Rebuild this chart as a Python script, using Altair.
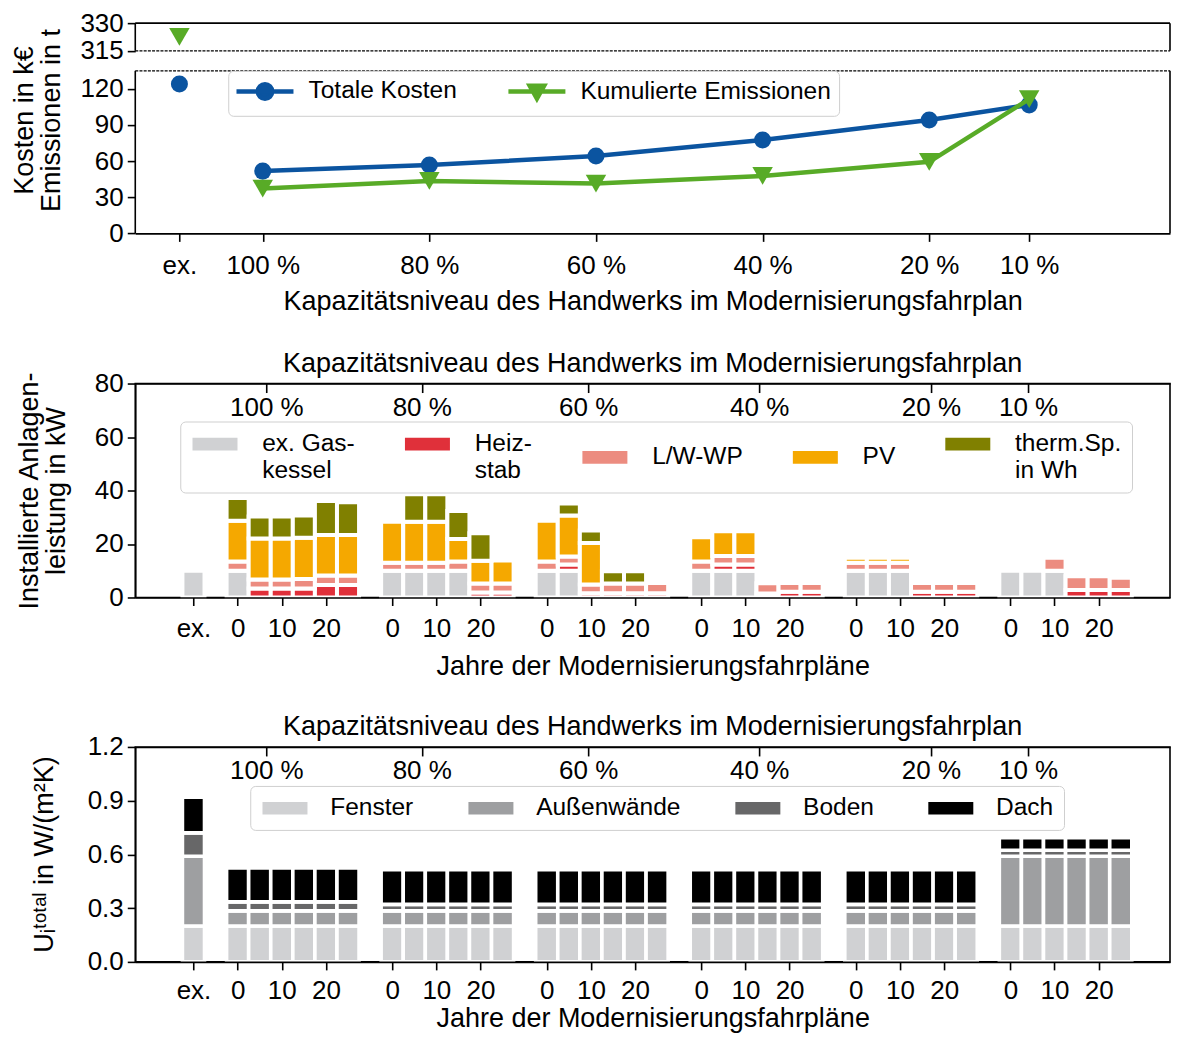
import altair as alt
import pandas as pd

FONT = "Liberation Sans"
TICK_FS = 26
TITLE_FS = 27
LEGEND_FS = 24.5

# ---------------- top panel data ----------------
levels = ["ex.", "100 %", "80 %", "60 %", "40 %", "20 %", "10 %"]
level_pos = [-1, 0, 2, 4, 6, 8, 9.2]
kosten = [124.0, 51.7, 56.7, 64.2, 77.5, 94.2, 106.7]
emissionen = [322.6, 37.2, 43.5, 41.4, 47.7, 59.4, 111.5]
series_names = ["Totale Kosten", "Kumulierte Emissionen"]
series_colors = ["#0b54a0", "#58ab27"]
top_yticks = [0, 30, 60, 90, 120, 315, 330]
BREAK_LOW, BREAK_HIGH, TOP_MAX = 135, 315, 330

# ---------------- middle panel data ----------------
group_labels = ["100 %", "80 %", "60 %", "40 %", "20 %", "10 %"]
group_label_pos = [6.5, 41.7, 79.4, 118.1, 157.0, 179.0]
years = [0, 5, 10, 15, 20, 25]
year_ticks = [0, 10, 20]
tech_names = ["ex. Gas-|kessel", "Heiz-|stab", "L/W-WP", "PV", "therm.Sp.|in Wh"]
tech_colors = ["#d0d1d3", "#e0303a", "#ec8c80", "#f5a800", "#808000"]
#            ex | 100 %                      | 80 %                      | 60 %                      | 40 %                   | 20 %                   | 10 %
gaskessel = [10, 10, 0, 0, 0, 0, 0,           10, 10, 10, 10, 0, 0,       10, 10, 0, 0, 0, 0,         10, 10, 10, 0, 0, 0,     10, 10, 10, 0, 0, 0,     10, 10, 10, 0, 0, 0]
heizstab = [0, 0, 3.4, 3.4, 3.4, 4.7, 4.7,    0, 0, 0, 0, 1.9, 1.9,       0, 2.3, 1.6, 1.6, 1.6, 1.6, 0, 2.3, 2.3, 1.5, 2.1, 2.1, 0, 0, 0, 2.1, 2.1, 2.1, 0, 0, 0, 2.8, 2.8, 2.8]
lwwp = [0, 3.5, 3.3, 3.3, 3.5, 3.5, 3.5,      3.0, 3.0, 3.0, 3.5, 3.3, 3.3, 3.5, 3.0, 3.3, 3.6, 3.6, 3.8, 3.5, 3.2, 3.2, 3.8, 3.3, 3.3, 3.0, 3.0, 3.0, 3.3, 3.3, 3.3, 0, 0, 4.9, 5.1, 5.1, 4.6]
pv = [0, 15.2, 15.4, 15.4, 15.4, 15.2, 15.2,  15.3, 15.3, 15.3, 8.4, 8.5, 8.6, 15.2, 15.4, 15.5, 0, 0, 0,   9.0, 9.3, 9.3, 0, 0, 0,  1.9, 1.9, 1.9, 0, 0, 0,  0, 0, 0, 0, 0, 0]
therm = [0, 8.5, 8.2, 8.2, 8.4, 12.7, 12.2,   0, 10.3, 10.3, 10.4, 10.3, 0, 0, 4.4, 4.6, 4.6, 4.6, 0,     0, 0, 0, 0, 0, 0,        0, 0, 0, 0, 0, 0,        0, 0, 0, 0, 0, 0]
tech_values = [gaskessel, heizstab, lwwp, pv, therm]

# ---------------- bottom panel data ----------------
env_names = ["Fenster", "Außenwände", "Boden", "Dach"]
env_colors = ["#d0d1d3", "#9e9fa1", "#676768", "#000000"]
fenster = [0.20, 0.20, 0.20, 0.20, 0.20, 0.20, 0.20, 0.20, 0.20, 0.20, 0.20, 0.20, 0.20, 0.20, 0.20, 0.20, 0.20, 0.20, 0.20,
           0.20, 0.20, 0.20, 0.20, 0.20, 0.20, 0.20, 0.20, 0.20, 0.20, 0.20, 0.20, 0.20, 0.20, 0.20, 0.20, 0.20, 0.20]
aussen = [0.39, 0.085, 0.085, 0.085, 0.085, 0.085, 0.085, 0.085, 0.085, 0.085, 0.085, 0.085, 0.085, 0.085, 0.085, 0.085, 0.085, 0.085, 0.085,
          0.085, 0.085, 0.085, 0.085, 0.085, 0.085, 0.085, 0.085, 0.085, 0.085, 0.085, 0.085, 0.39, 0.39, 0.39, 0.39, 0.39, 0.39]
boden = [0.13, 0.05, 0.05, 0.05, 0.05, 0.05, 0.05, 0.036, 0.036, 0.036, 0.036, 0.036, 0.036, 0.036, 0.036, 0.036, 0.036, 0.036, 0.036,
         0.036, 0.036, 0.036, 0.036, 0.036, 0.036, 0.036, 0.036, 0.036, 0.036, 0.036, 0.036, 0.033, 0.033, 0.033, 0.033, 0.033, 0.033]
dach = [0.20, 0.19, 0.19, 0.19, 0.19, 0.19, 0.19, 0.193, 0.193, 0.193, 0.193, 0.193, 0.193, 0.193, 0.193, 0.193, 0.193, 0.193, 0.193,
        0.193, 0.193, 0.193, 0.193, 0.193, 0.193, 0.193, 0.193, 0.193, 0.193, 0.193, 0.193, 0.07, 0.07, 0.07, 0.07, 0.07, 0.07]
env_values = [fenster, aussen, boden, dach]

# ---------------- layout constants ----------------
W = 1035
PAD_T = 2
UPPER_H = 27.7          # height of the 315-330 band
BREAK_GAP = 20          # white gap of the broken axis
LOWER_H = 162.6         # height of the 0-135 band
TOP_H = UPPER_H + BREAK_GAP + LOWER_H
MID_H = 214
BOT_H = 215
GAP = 149.5
GROUP_STEP = 35
EX_POS = -10
BAR_W = 5
top_x_domain = [-1.53, 10.89]
bar_x_domain = [-23.18, 211.15]
TOP_TITLE_X = -96.7
PAD_L = 135 - 8 - (28 - TOP_TITLE_X)

bar_pos = [EX_POS] + [GROUP_STEP * g + y for g in range(len(group_labels)) for y in years]
bottom_tick_pos = [EX_POS] + [GROUP_STEP * g + t for g in range(len(group_labels)) for t in year_ticks]
bottom_tick_lab = ["ex."] + [str(t) for g in range(len(group_labels)) for t in year_ticks]


def label_expr(values, labels):
    expr = "''"
    for v, l in reversed(list(zip(values, labels))):
        expr = f"datum.value == {v} ? '{l}' : {expr}"
    return expr


one_row = pd.DataFrame({"k": [0]})

# ================= TOP CHART =================
rows = []
for s, vals in zip(series_names, [kosten, emissionen]):
    for p, lv, v in zip(level_pos, levels, vals):
        rows.append({"pos": p, "level": lv, "series": s, "value": v})
top_df = pd.DataFrame(rows)

x_top_scale = alt.Scale(domain=top_x_domain, nice=False, zero=False)
y_top_scale = alt.Scale(domain=[0, BREAK_LOW, BREAK_HIGH, TOP_MAX],
                        range=[TOP_H, UPPER_H + BREAK_GAP, UPPER_H, 0], nice=False, zero=False)

x_top = alt.X("pos:Q", scale=x_top_scale,
              axis=alt.Axis(values=level_pos, labelExpr=label_expr(level_pos, levels),
                            title="Kapazitätsniveau des Handwerks im Modernisierungsfahrplan",
                            labelPadding=10.8, titlePadding=10.3, zindex=1, labelOverlap=False,
                            tickCount=20))
y_top = alt.Y("value:Q", scale=y_top_scale,
              axis=alt.Axis(values=top_yticks, domain=False, labelOverlap=False, tickCount=20,
                            title=["Kosten in k€", "Emissionen in t"], titleLineHeight=27,
                            titleX=TOP_TITLE_X, titleY=120 - 233.3 + TOP_H, titleAngle=270,
                            titleAlign="center", titleBaseline="bottom", labelPadding=4))

base_top = alt.Chart(top_df).encode(x=x_top, y=y_top)
blue_line = base_top.transform_filter(f"datum.series == '{series_names[0]}' && datum.pos >= 0").mark_line(
    color=series_colors[0], strokeWidth=4.5)
blue_pts = base_top.transform_filter(f"datum.series == '{series_names[0]}'").mark_point(
    filled=True, opacity=1, size=290, shape="circle", color=series_colors[0])
green_line = base_top.transform_filter(f"datum.series == '{series_names[1]}' && datum.pos >= 0").mark_line(
    color=series_colors[1], strokeWidth=4.5)
green_pts = base_top.transform_filter(f"datum.series == '{series_names[1]}'").mark_point(
    filled=True, opacity=1, size=420, shape="triangle-down", color=series_colors[1])

sym_circle = "M-2.85,0L2.85,0M-0.72,0A0.72,0.72,0,1,0,0.72,0A0.72,0.72,0,1,0,-0.72,0Z"
sym_tri = "M-2.85,0L2.85,0M-0.72,-0.58L0.72,-0.58L0,0.70Z"
leg_top = alt.Legend(title=None, orient="none", legendX=93, legendY=UPPER_H + BREAK_GAP, direction="horizontal",
                     symbolSize=400, symbolStrokeWidth=4.5, symbolOffset=16.25, labelOffset=31,
                     labelFontSize=LEGEND_FS, labelFont=FONT, labelLimit=0, columnPadding=42,
                     padding=8, strokeColor="#cfcfcf", fillColor="rgba(255,255,255,0.8)",
                     cornerRadius=5, symbolOpacity=1)
legend_layer = base_top.mark_point(filled=True, opacity=0).encode(
    fill=alt.Fill("series:N", scale=alt.Scale(domain=series_names, range=series_colors), legend=leg_top),
    stroke=alt.Stroke("series:N", scale=alt.Scale(domain=series_names, range=series_colors), legend=leg_top),
    shape=alt.Shape("series:N", scale=alt.Scale(domain=series_names, range=[sym_circle, sym_tri]), legend=leg_top),
)

rule_base = alt.Chart(one_row)
solid = dict(color="black", strokeWidth=1.6)
dashed = dict(color="black", strokeWidth=1.3, strokeDash=[3, 1.2])
rules = [
    rule_base.mark_rule(**solid).encode(x=alt.value(0), y=alt.datum(0, scale=y_top_scale), y2=alt.datum(BREAK_LOW)),
    rule_base.mark_rule(**solid).encode(x=alt.value(0), y=alt.datum(BREAK_HIGH, scale=y_top_scale), y2=alt.datum(TOP_MAX)),
    rule_base.mark_rule(**solid).encode(x=alt.value(W), y=alt.datum(0, scale=y_top_scale), y2=alt.datum(BREAK_LOW)),
    rule_base.mark_rule(**solid).encode(x=alt.value(W), y=alt.datum(BREAK_HIGH, scale=y_top_scale), y2=alt.datum(TOP_MAX)),
    rule_base.mark_rule(**solid).encode(x=alt.value(0), x2=alt.value(W), y=alt.datum(TOP_MAX, scale=y_top_scale)),
    rule_base.mark_rule(**dashed).encode(x=alt.value(0), x2=alt.value(W), y=alt.datum(BREAK_HIGH, scale=y_top_scale)),
    rule_base.mark_rule(**dashed).encode(x=alt.value(0), x2=alt.value(W), y=alt.datum(BREAK_LOW, scale=y_top_scale)),
]

top_chart = alt.layer(blue_line, blue_pts, green_line, green_pts, legend_layer, *rules).properties(
    width=W, height=TOP_H)

# ================= BAR CHART helper =================
x_bar_scale = alt.Scale(domain=bar_x_domain, nice=False, zero=False)


def bar_panel(names, colors, values, y_domain, y_ticks, y_format, y_title, title_x, title_lh,
              height, legend_x, legend_y, stroke_w, entry_sym_h, lab_off, col_pad,
              x_lab_pad, x_title_pad, title_off):
    rows = []
    for k, (n, vals) in enumerate(zip(names, values)):
        for i, v in enumerate(vals):
            rows.append({"pos": bar_pos[i], "comp": n, "order": k, "value": v})
    df = pd.DataFrame(rows)
    sw_path = f"M-2.25,-{entry_sym_h}L2.25,-{entry_sym_h}L2.25,{entry_sym_h}L-2.25,{entry_sym_h}Z"
    leg = alt.Legend(title=None, orient="none", legendX=legend_x, legendY=legend_y, direction="horizontal",
                     symbolType=sw_path, symbolSize=400, symbolStrokeWidth=0, symbolOffset=12.5,
                     labelOffset=lab_off, labelFontSize=LEGEND_FS, labelFont=FONT, labelLimit=0,
                     labelExpr="split(datum.label, '|')", columnPadding=col_pad, padding=10,
                     strokeColor="#cfcfcf", fillColor="rgba(255,255,255,0.8)", cornerRadius=5,
                     symbolOpacity=1)
    bars = (
        alt.Chart(df)
        .transform_filter("datum.value > 0")
        .transform_stack(stack="value", groupby=["pos"], as_=["y0", "y1"], sort=[alt.SortField("order", order="ascending")])
        .transform_calculate(xa=f"datum.pos - {BAR_W / 2}", xb=f"datum.pos + {BAR_W / 2}")
        .mark_bar(stroke="white", strokeWidth=stroke_w)
        .encode(
            x=alt.X("xa:Q", scale=x_bar_scale,
                    axis=alt.Axis(orient="bottom", values=bottom_tick_pos,
                                  labelExpr=label_expr(bottom_tick_pos, bottom_tick_lab),
                                  title="Jahre der Modernisierungsfahrpläne", labelPadding=x_lab_pad,
                                  titlePadding=x_title_pad, zindex=1, labelOverlap=False, tickCount=40)),
            x2="xb:Q",
            y=alt.Y("y0:Q", scale=alt.Scale(domain=y_domain, nice=False, zero=False),
                    axis=alt.Axis(values=y_ticks, format=y_format, title=y_title, titleLineHeight=title_lh,
                                  titleX=title_x, titleY=107, titleAngle=270, titleAlign="center",
                                  titleBaseline="bottom", labelPadding=4, zindex=1, labelOverlap=False,
                                  tickCount=20)),
            y2="y1:Q",
            color=alt.Color("comp:N", scale=alt.Scale(domain=names, range=colors), legend=leg),
        )
    )
    top_axis = alt.Chart(pd.DataFrame({"pos": group_label_pos})).mark_point(opacity=0).encode(
        x=alt.X("pos:Q", scale=x_bar_scale,
                axis=alt.Axis(orient="bottom", offset=-height, values=group_label_pos,
                              labelExpr=label_expr(group_label_pos, group_labels), title=None,
                              domain=True, tickSize=9, labelPadding=2, zindex=1, labelOverlap=False,
                              tickCount=20)),
        y=alt.value(0),
    )
    return alt.layer(bars, top_axis).resolve_axis(x="independent").properties(
        width=W, height=height,
        title=alt.TitleParams("Kapazitätsniveau des Handwerks im Modernisierungsfahrplan",
                              fontSize=TITLE_FS, font=FONT, fontWeight="normal", offset=title_off,
                              color="black"),
        view=alt.ViewBackground(stroke="black", strokeWidth=1.6),
    )


mid_chart = bar_panel(tech_names, tech_colors, tech_values, [0, 80], [0, 20, 40, 60, 80], "d",
                      ["Installierte Anlagen-", "leistung in kW"], -92, 27, MID_H, 45, 38, 4, 0.63,
                      35, 47.5, 10.3, 12.2, -7)
bot_chart = bar_panel(env_names, env_colors, env_values, [0, 1.2], [0.0, 0.3, 0.6, 0.9, 1.2], ".1f",
                      "Uᵢᵗᵒᵗᵃˡ in W/(m²K)", -76.6, 27, BOT_H, 115, 39, 3.6, 0.63,
                      33, 52, 7.3, 2, -7)

chart = (
    alt.vconcat(top_chart, mid_chart, bot_chart, spacing=GAP, bounds="flush")
    .resolve_scale(color="independent", fill="independent", stroke="independent", shape="independent")
    .properties(padding={"left": PAD_L, "top": PAD_T, "right": 0, "bottom": 0}, background="white")
    .configure_view(stroke=None)
    .configure_axis(labelFont=FONT, titleFont=FONT, labelFontSize=TICK_FS, titleFontSize=TITLE_FS,
                    labelColor="black", titleColor="black", domainColor="black", tickColor="black",
                    domainWidth=1.6, tickWidth=1.6, tickSize=8, grid=False, titleFontWeight="normal",
                    labelFlush=False, labelOverlap=False)
    .configure_legend(labelFont=FONT, labelFontSize=LEGEND_FS, labelColor="black")
)

chart.save("out.html", embed_options={"renderer": "svg", "actions": False})
